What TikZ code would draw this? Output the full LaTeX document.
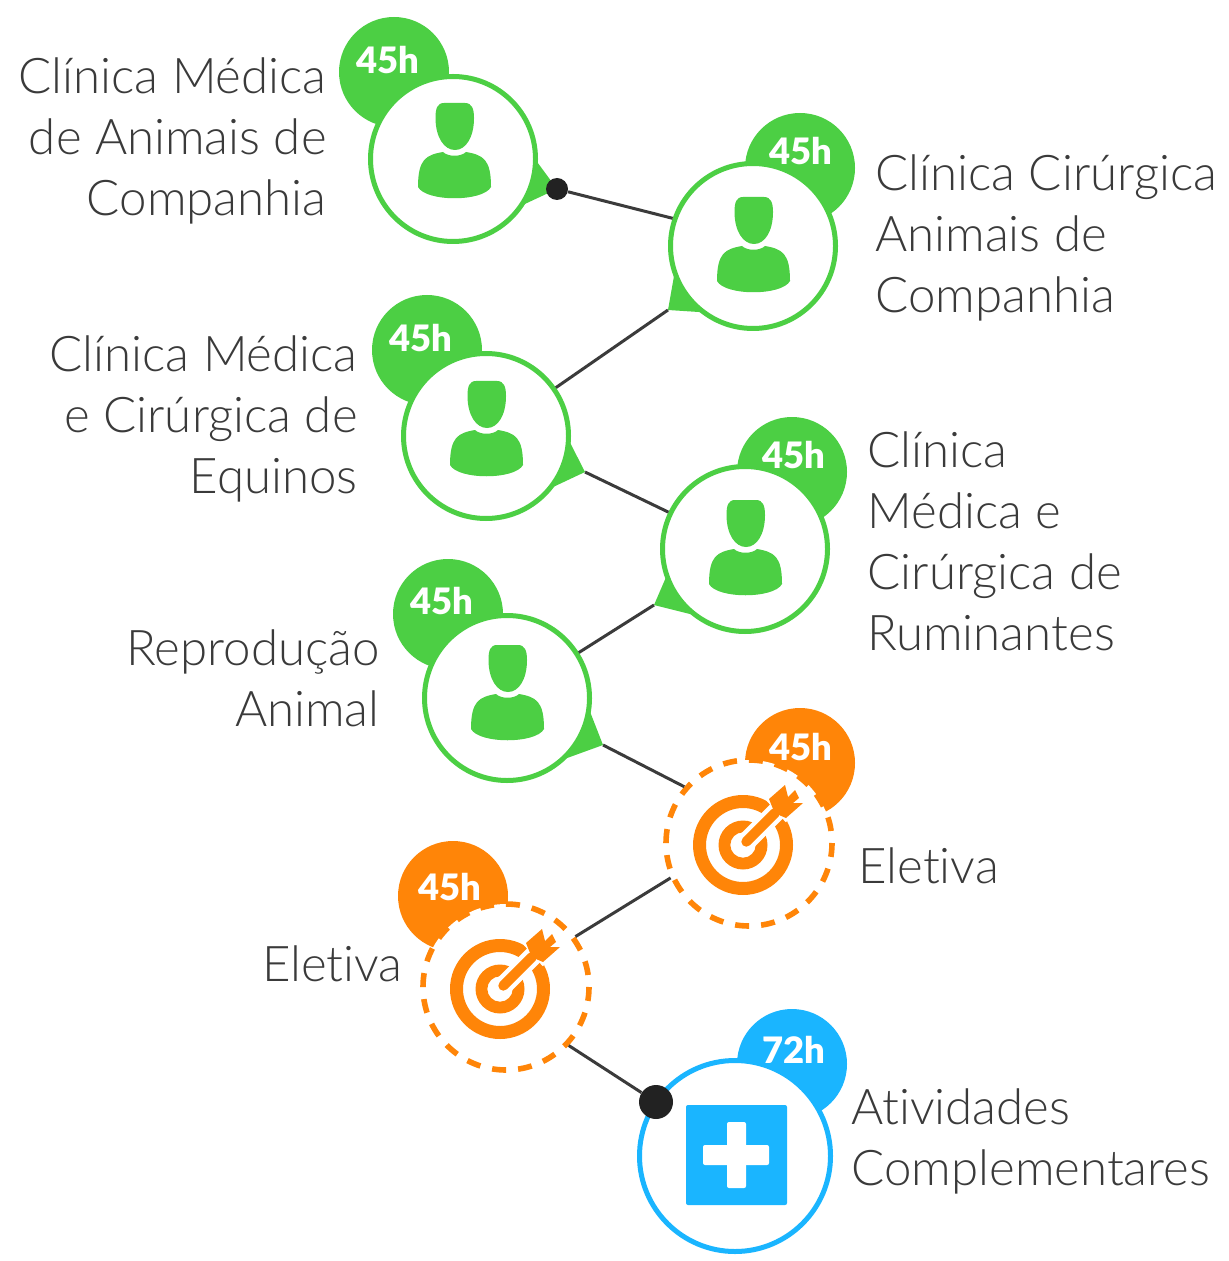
\documentclass[tikz,border=0pt]{standalone}
\usepackage{fontspec}
\setmainfont[Ligatures=NoCommon]{Lato Light}
\newfontfamily\hoursfont{Lato Black}
\definecolor{clingreen}{HTML}{4CCF44}
\definecolor{electorange}{HTML}{FF8508}
\definecolor{compblue}{HTML}{1AB5FF}
\definecolor{labelgray}{HTML}{3A3A3A}
\definecolor{linkgray}{HTML}{3B3B3B}
\definecolor{dotblack}{HTML}{222222}
\tikzset{
	ring/.style={circle, draw=#1, fill=white, line width=2.5pt, inner sep=0pt, minimum size=82.5pt},
	dashring/.style={ring=electorange, line width=2.8pt, minimum size=83pt, dash pattern=on 7pt off 6.04pt, dash phase=7pt},
	badge/.style={circle, fill=#1, inner sep=0pt, minimum size=55pt},
	hours/.style={text=white, inner sep=0pt, font=\hoursfont\fontsize{18.2}{20}\selectfont},
	label/.style={text=labelgray, inner sep=0pt, font=\fontsize{24.6}{30.5}\selectfont},
	link/.style={draw=linkgray, line width=1.5pt},
	blackdot/.style={circle, fill=dotblack, inner sep=0pt, minimum size=#1},
	personicon/.pic={
		% head
		\fill[clingreen] (-9,-56) -- (12,-56) .. controls (19,-56) and (21,-50) .. (21,-41)
			.. controls (21,-22) and (13,-9) .. (2,-9)
			.. controls (-9,-9) and (-17.5,-22) .. (-17.5,-41)
			.. controls (-17.5,-50) and (-16,-56) .. (-9,-56) -- cycle;
		% shoulders
		\fill[clingreen] (-10,-7) .. controls (-5,-2) and (8,-2) .. (13,-7)
			.. controls (30,-4) and (38,0) .. (38,28)
			.. controls (30,43) and (-27,43) .. (-35,28)
			.. controls (-35,0) and (-27,-4) .. (-10,-7) -- cycle;
	},
	targeticon/.pic={
		% rings
		\fill[electorange, even odd rule] (0,0) circle (50) (0,0) circle (37) (0,0) circle (24.5) (0,0) circle (12.7);
		% gap round the arrow
		\draw[white, line width=9.5pt] (0,0) -- (38,-38);
		\fill[white, draw=white, line width=3pt] (26,-46) -- (42,-60) -- (60,-42) -- (43,-27) -- cycle;
		% arrow
		\draw[electorange, line width=5pt, line cap=round] (3.3,-3.3) -- (32,-32);
		\fill[electorange] (26,-46) -- (42,-60) -- (45,-48) -- (52,-55) -- (56,-47) -- (50,-42)
			-- (60,-42) -- (43,-27) -- (36,-30) -- (30,-36) -- cycle;
	},
}

\begin{document}
\begin{tikzpicture}[x=0.5pt, y=-0.5pt]
		\useasboundingbox (0,0) rectangle (1228,1261);
		% green courses
		\foreach \nm/\mx/\my/\bx/\by/\tx/\ty/\ix/\iy/\tipx/\tipy/\alo/\ahi in {
			clinA/453/159/394/72/388/60/453/159/557/189/1/34,
			clinB/753/246/800/168/801/151/752/253/668/310/161/127,
			clinC/486/436/427/350/421/338/485/437/585/472/3/39,
			clinD/745/549/792/472/794/455/744/556/654/605/161/127,
			clinE/507/698/448/614/442/601/506/701/603/745/8/48}
		{
			\node[badge=clingreen] (badge\nm) at (\bx,\by) {};
			\node[hours] (hours\nm) at (\tx,\ty) {45h};
			\coordinate (tip\nm) at (\tipx,\tipy);
			\path (\mx,\my) +(\alo:83) coordinate (lo\nm) +(\ahi:83) coordinate (hi\nm);
			\fill[clingreen] (lo\nm) -- (tip\nm) -- (hi\nm) -- (\mx,\my) -- cycle;
			\node[ring=clingreen] (\nm) at (\mx,\my) {};
			\pic at (\ix,\iy) {personicon};
		}
		% orange courses
		\foreach \nm/\mx/\my/\bx/\by/\tx/\ty in {
			electA/749/843/800/763/801/747,
			electB/506/987/453/896/450/887}
		{
			\node[badge=electorange] (badge\nm) at (\bx,\by) {};
			\node[hours] (hours\nm) at (\tx,\ty) {45h};
			\node[dashring] (\nm) at (\mx,\my) {};
			\pic at (\mx-6,\my+2) {targeticon};
		}
		% blue course
		\node[badge=compblue] (badgecomp) at (792,1064) {};
		\node[hours] (hourscomp) at (794,1050) {72h};
		\node[ring=compblue, minimum size=95.5pt] (comp) at (735,1156) {};
		\fill[compblue, rounded corners=1pt] (686,1105) rectangle (787,1205);
		\fill[white, rounded corners=1pt] (727,1122) rectangle (746,1188);
		\fill[white, rounded corners=1pt] (703,1145) rectangle (769,1165);
		% links
		\node[blackdot=11pt] (dotA) at (tipclinA) {};
		\node[blackdot=17pt] (dotB) at (656,1102) {};
		\draw[link] (dotA) -- (clinB.161);
		\draw[link] (tipclinB) -- (clinC);
		\draw[link] (tipclinC) -- (clinD);
		\draw[link] (tipclinD) -- (clinE);
		\draw[link] (tipclinE) -- (electA.139);
		\draw[link] (electA.204) -- (electB.36);
		\draw[link] (electB.-43) -- (dotB);
		% labels
		\node[label, align=right, anchor=east] (lblclinA) at (327,141) {Clínica Médica\\de Animais de\\Companhia};
		\node[label, align=left, anchor=west] (lblclinB) at (875,238) {Clínica Cirúrgica\\Animais de\\Companhia};
		\node[label, align=right, anchor=east] (lblclinC) at (358,419) {Clínica Médica\\e Cirúrgica de\\Equinos};
		\node[label, align=left, anchor=west] (lblclinD) at (867,541) {Clínica\\Médica e\\Cirúrgica de\\Ruminantes};
		\node[label, align=right, anchor=east] (lblclinE) at (380,678) {Reprodução\\Animal};
		\node[label, align=left, anchor=west] (lblelectA) at (858,866) {Eletiva};
		\node[label, align=right, anchor=east] (lblelectB) at (403,964) {Eletiva};
		\node[label, align=left, anchor=west] (lblcomp) at (851,1141) {Atividades\\Complementares};
	\end{tikzpicture}
\end{document}
